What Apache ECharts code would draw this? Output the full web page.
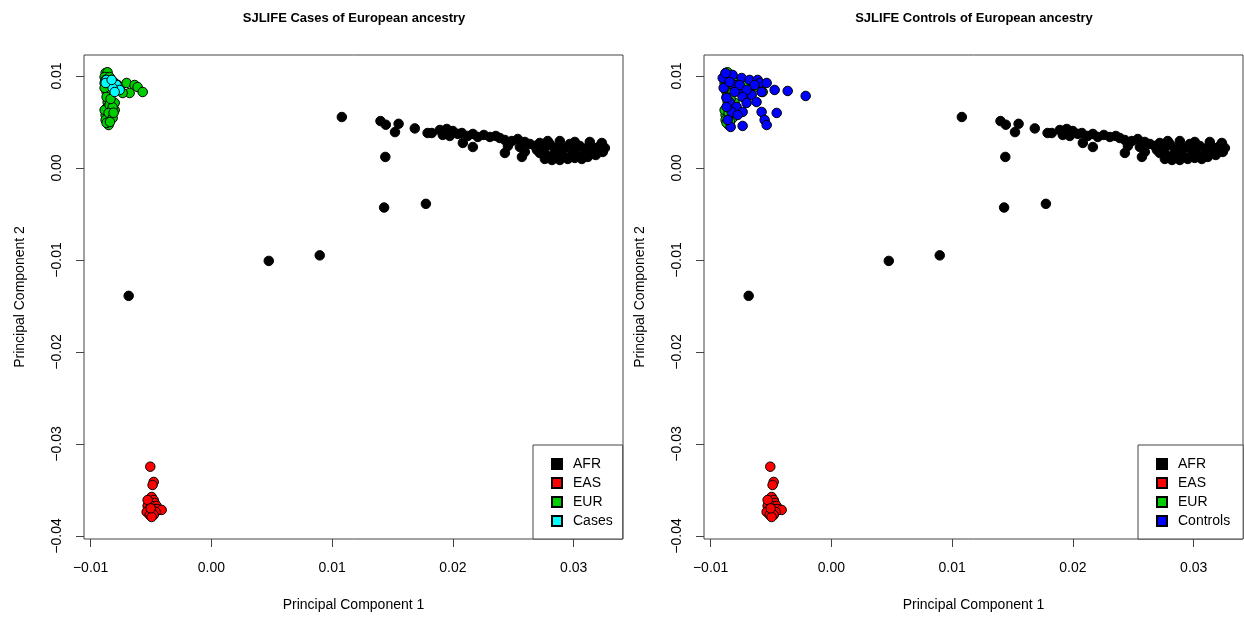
<!DOCTYPE html>
<html>
<head>
<meta charset="utf-8">
<title>SJLIFE PCA</title>
<script src="https://cdn.jsdelivr.net/npm/echarts@6/dist/echarts.min.js"></script>
<style>
  html, body { margin: 0; padding: 0; background: #fff; }
  #chart { width: 1244px; height: 618px; }
</style>
</head>
<body>
<div id="chart"></div>
<script>
// PC1 / PC2 values
const afr = [
  [0.01825, 0.0038], [0.01892, 0.00413], [0.01916, 0.00359], [0.01949, 0.00424],
  [0.01974, 0.00348], [0.01999, 0.00402], [0.02041, 0.0037], [0.02074, 0.0038],
  [0.02123, 0.00348], [0.02165, 0.0037], [0.02206, 0.00337], [0.02256, 0.00359],
  [0.02306, 0.00337], [0.02355, 0.00348], [0.02388, 0.00326], [0.02082, 0.00272],
  [0.02165, 0.00228], [0.0243, 0.00304], [0.02488, 0.00293], [0.02537, 0.00315],
  [0.02595, 0.00283], [0.02637, 0.00261], [0.02455, 0.00239], [0.02554, 0.00228],
  [0.0243, 0.00163], [0.02571, 0.0012], [0.02595, 0.00174],
  [0.02678, 0.00239], [0.02719, 0.00272], [0.02761, 0.00217], [0.02802, 0.00261],
  [0.02844, 0.00196], [0.02885, 0.0025], [0.02927, 0.00217], [0.02968, 0.00261],
  [0.03009, 0.00196], [0.03051, 0.00239], [0.03092, 0.00207], [0.03133, 0.0025],
  [0.03175, 0.00217], [0.03216, 0.00239], [0.03258, 0.00217],
  [0.02719, 0.00163], [0.02785, 0.0013], [0.02844, 0.00109], [0.02902, 0.00141],
  [0.02968, 0.0012], [0.03034, 0.0013], [0.03092, 0.00152], [0.0315, 0.00174],
  [0.03216, 0.00185], [0.02761, 0.00098], [0.0282, 0.00087], [0.02885, 0.00087],
  [0.02951, 0.00098], [0.03009, 0.00109], [0.03067, 0.00098], [0.03117, 0.0012],
  [0.02695, 0.00196], [0.02869, 0.00163], [0.02993, 0.00163], [0.03183, 0.00141],
  [0.03241, 0.00174], [0.02785, 0.00293], [0.02885, 0.00293], [0.03009, 0.00283],
  [0.03133, 0.00283], [0.03233, 0.00272],
  // stragglers
  [0.0108, 0.00554], [0.0140, 0.0051], [0.01444, 0.0047], [0.0155, 0.0048],
  [0.0152, 0.0039], [0.01684, 0.0043], [0.0179, 0.0038], [0.0144, 0.0012],
  [0.0143, -0.0043], [0.01776, -0.0039], [0.00475, -0.0101], [0.00897, -0.0095],
  [-0.00685, -0.0139]
]

const eas = [
  [-0.00506, -0.03247], [-0.00478, -0.03413], [-0.00487, -0.03446], [-0.00495, -0.03576],
  [-0.00478, -0.03609], [-0.00511, -0.03641], [-0.0047, -0.03641], [-0.00528, -0.03674],
  [-0.00495, -0.03674], [-0.00454, -0.03674], [-0.00511, -0.03707], [-0.00478, -0.03707],
  [-0.00445, -0.03707], [-0.00412, -0.03717], [-0.00536, -0.03739], [-0.00495, -0.03739],
  [-0.00462, -0.03739], [-0.00511, -0.03772], [-0.00478, -0.03772], [-0.00495, -0.03794],
  [-0.00528, -0.03609], [-0.00503, -0.037]
]

const eur = [
  [-0.00876, 0.01033], [-0.00860, 0.01040], [-0.00884, 0.00989], [-0.00876, 0.00957],
  [-0.00884, 0.00924], [-0.00843, 0.00989], [-0.00826, 0.00957], [-0.00801, 0.00924],
  [-0.00776, 0.00902], [-0.0076, 0.0087], [-0.00702, 0.00924], [-0.00636, 0.00902],
  [-0.00611, 0.0088], [-0.00569, 0.00826], [-0.00677, 0.00815], [-0.00735, 0.00815],
  [-0.00868, 0.00826], [-0.00843, 0.00815], [-0.00884, 0.0087],
  [-0.00859, 0.00717], [-0.00868, 0.00652], [-0.00876, 0.00576], [-0.00843, 0.00522],
  [-0.00851, 0.00467], [-0.00801, 0.0063], [-0.00801, 0.00707], [-0.00884, 0.0063],
  [-0.00876, 0.00522], [-0.00868, 0.00772], [-0.00868, 0.00490], [-0.00826, 0.00576],
  [-0.00843, 0.00685], [-0.00818, 0.0066], [-0.00851, 0.00598], [-0.00818, 0.00543],
  [-0.0084, 0.0050], [-0.00835, 0.0075], [-0.0081, 0.0060]
]

const cases = [
  [-0.00843, 0.00924], [-0.00868, 0.00957], [-0.00785, 0.00902], [-0.0076, 0.00848],
  [-0.00818, 0.0087], [-0.00876, 0.00924], [-0.00826, 0.00957], [-0.00801, 0.00826]
]

const controls = [
  [-0.00900, 0.00978], [-0.00892, 0.0087], [-0.00818, 0.01011], [-0.00743, 0.00978],
  [-0.00677, 0.00957], [-0.00611, 0.00957], [-0.00801, 0.00902], [-0.0066, 0.00794],
  [-0.00843, 0.00717], [-0.0076, 0.00826], [-0.00594, 0.00924],
  [-0.00876, 0.01030], [-0.00843, 0.00935], [-0.0076, 0.00902], [-0.00636, 0.00902],
  [-0.00536, 0.00924], [-0.0047, 0.00848], [-0.00362, 0.00837], [-0.00213, 0.00783],
  [-0.00578, 0.00826], [-0.00702, 0.00848], [-0.00801, 0.00826], [-0.00735, 0.00772],
  [-0.0062, 0.00717], [-0.00702, 0.00707], [-0.00785, 0.00663], [-0.00826, 0.00609],
  [-0.00735, 0.00609], [-0.00578, 0.00609], [-0.00453, 0.00598], [-0.00776, 0.00576],
  [-0.00553, 0.00522], [-0.00536, 0.00467], [-0.00735, 0.00457], [-0.00834, 0.00446],
  [-0.00859, 0.00522], [-0.00868, 0.00761], [-0.00868, 0.00663]
]

const xTicks = [-0.01, 0, 0.01, 0.02, 0.03]
const yTicks = [-0.04, -0.03, -0.02, -0.01, 0, 0.01]
const titles = ['SJLIFE Cases of European ancestry', 'SJLIFE Controls of European ancestry']

const font = '"Liberation Sans", Arial, Helvetica, sans-serif'
const axisColor = '#444'

function fmt(v) {
  if (Math.abs(v) < 1e-9) return '0.00'
  return (v < 0 ? '\u2212' : '') + Math.abs(v).toFixed(2)
}

function xAxis(i) {
  return {
    type: 'value', gridIndex: i, min: -0.01055, max: 0.03408,
    name: 'Principal Component 1', nameLocation: 'middle', nameGap: 59,
    nameTextStyle: { fontSize: 14, color: '#000', fontFamily: font },
    splitLine: { show: false },
    axisLine: { show: false, onZero: false },
    axisTick: { customValues: xTicks, length: 8, lineStyle: { color: axisColor } },
    axisLabel: { customValues: xTicks, formatter: fmt, margin: 22, fontSize: 14, color: '#000', fontFamily: font }
  }
}

function yAxis(i) {
  return {
    type: 'value', gridIndex: i, min: -0.04033, max: 0.01228,
    name: 'Principal Component 2', nameLocation: 'middle', nameGap: 57, nameRotate: 90,
    nameTextStyle: { fontSize: 14, color: '#000', fontFamily: font },
    splitLine: { show: false },
    axisLine: { show: false, onZero: false },
    axisTick: { customValues: yTicks, length: 8, lineStyle: { color: axisColor } },
    axisLabel: { customValues: yTicks, formatter: fmt, rotate: 90, margin: 20, fontSize: 14, color: '#000', fontFamily: font }
  }
}

function pts(name, data, color, i) {
  return {
    name: name, type: 'scatter', xAxisIndex: i, yAxisIndex: i,
    data: data, symbol: 'circle', symbolSize: 9.5,
    itemStyle: { color: color, borderColor: '#000', borderWidth: 1, opacity: 1 },
    emphasis: { disabled: true }
  }
}

function legend(left, names, padRight) {
  return {
    orient: 'vertical', left: left, top: 445,
    data: names, icon: 'rect', itemWidth: 10, itemHeight: 10, itemGap: 5,
    padding: [12, padRight, 11, 18],
    borderColor: axisColor, borderWidth: 1, backgroundColor: '#fff',
    selectedMode: false,
    textStyle: { fontSize: 14, lineHeight: 14, color: '#000', fontFamily: font, padding: [0, 0, 0, 6] }
  }
}

const chart = echarts.init(document.getElementById('chart'))
chart.setOption({
  animation: false,
  backgroundColor: '#fff',
  title: titles.map((t, i) => ({
    text: t, left: 349 + i * 620, top: 7, textAlign: 'center',
    textStyle: { fontSize: 13, fontWeight: 'bold', color: '#000', fontFamily: font }
  })),
  grid: [
    { left: 84, top: 55, width: 539, height: 484, show: true, borderColor: axisColor, borderWidth: 1 },
    { left: 704, top: 55, width: 539, height: 484, show: true, borderColor: axisColor, borderWidth: 1 }
  ],
  xAxis: [xAxis(0), xAxis(1)],
  yAxis: [yAxis(0), yAxis(1)],
  legend: [
    legend(533, ['AFR', 'EAS', 'EUR', 'Cases'], 10),
    legend(1138, ['AFR', 'EAS', 'EUR', 'Controls'], 13)
  ],
  series: [
    pts('AFR', afr, '#000000', 0),
    pts('EAS', eas, '#FF0000', 0),
    pts('EUR', eur, '#00CD00', 0),
    pts('Cases', cases, '#00FFFF', 0),
    pts('AFR', afr, '#000000', 1),
    pts('EAS', eas, '#FF0000', 1),
    pts('EUR', eur, '#00CD00', 1),
    pts('Controls', controls, '#0000FF', 1)
  ]
})
</script>
</body>
</html>
